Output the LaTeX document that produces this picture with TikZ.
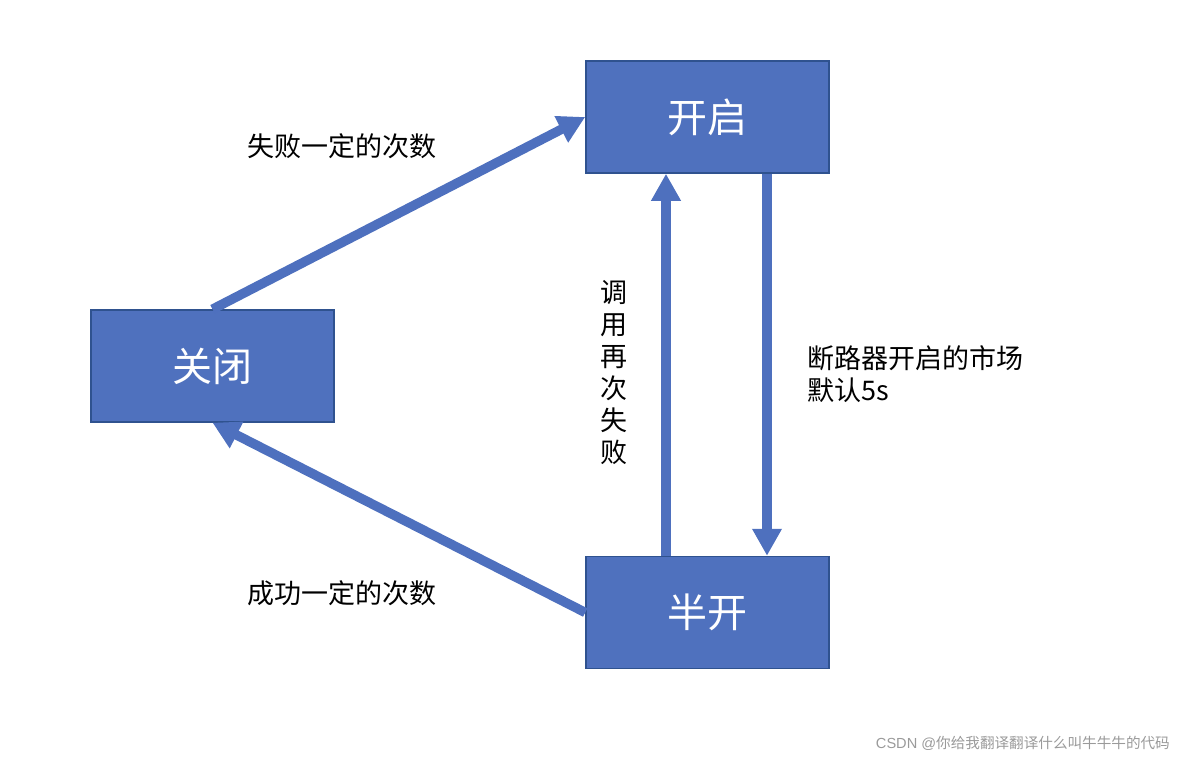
\documentclass[tikz,border=0pt]{standalone}
\usepackage{fontspec}
\setmainfont{Noto Sans CJK SC}
\newfontfamily\cjk{Noto Sans CJK SC}
\usetikzlibrary{arrows.meta,positioning}
\definecolor{boxc}{HTML}{4F71BE}
\definecolor{edgec}{HTML}{2F528F}
\definecolor{arrc}{HTML}{4E70BE}
\definecolor{markc}{HTML}{9A9A9A}
\tikzset{
  state/.style={rectangle, fill=boxc, draw=edgec, line width=1.5pt, minimum width=243pt, minimum height=112pt, inner sep=0pt, text=white, font=\cjk\fontsize{40}{42}\selectfont},
  link/.style={-{Triangle[length=27pt, width=28pt]}, line width=9.5pt, arrc},
  lbl/.style={font=\cjk\fontsize{27}{32}\selectfont, inner sep=0pt},
}
\begin{document}
\begin{tikzpicture}[x=1pt, y=-1pt]
  \useasboundingbox (0,0) rectangle (1186,760);
  \node[state] (kaiqi) at (707.5,117) {开启};
  \node[state] (guanbi) at (212.5,366) {关闭};
  \node[state] (bankai) at (707.5,612.5) {半开};
  \draw[link] (guanbi.north) -- (kaiqi.west);
  \draw[link] (bankai.west) -- (guanbi.south);
  \draw[link] ([xshift=-41.5pt]bankai.north) -- ([xshift=-41.5pt]kaiqi.south);
  \draw[link] ([xshift=59.5pt]kaiqi.south) -- ([xshift=59.5pt]bankai.north);
  \node[lbl] (fail) at (342,146) {失败一定的次数};
  \node[lbl] (succ) at (342,593) {成功一定的次数};
  \node[lbl, align=center] (retry) at (614,373) {调\\用\\再\\次\\失\\败};
  \node[lbl, align=left, anchor=west] (wait) at (807,374) {断路器开启的市场\\默认5s};
  \node[font=\fontspec{Liberation Sans}\fontsize{14.6}{16}\selectfont, text=markc, anchor=east, inner sep=0pt] (mark) at (1170,743) {CSDN @{\cjk 你给我翻译翻译什么叫牛牛牛的代码}};
\end{tikzpicture}
\end{document}
